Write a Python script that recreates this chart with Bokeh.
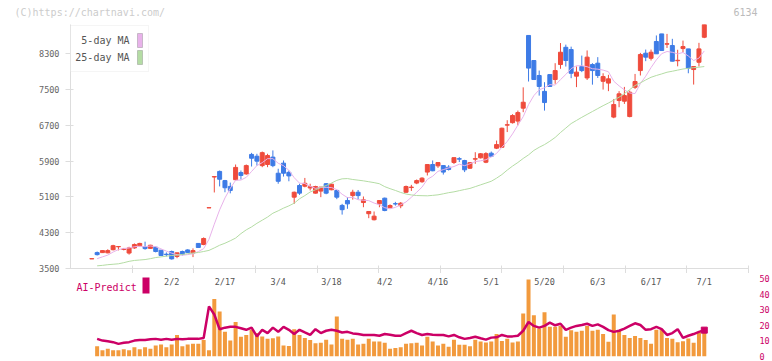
import pandas as pd
from bokeh.plotting import figure
from bokeh.layouts import column
from bokeh.models import ColumnDataSource, Range1d, FixedTicker, Label, BoxAnnotation
from bokeh.core.properties import value
from bokeh.embed import file_html
from bokeh.resources import INLINE

# ---------------- data ----------------
opens = [3715, 3855, 3855, 3850, 3920, 3985, 3925, 3845, 3960, 4010,
         3990, 3950, 3975, 3910, 3820, 3880, 3770, 3880, 3915, 3845,
         4060, 4036, 4855, 5545, 5670, 5465, 5335, 5485, 5645, 5615,
         6050, 6010, 5800, 5825, 5990, 5630, 5855, 5650, 5095, 5355,
         5340, 5300, 5185, 5230, 5395, 5260, 5245, 4910, 5020, 5130,
         5205, 4975, 4725, 4590, 4946, 5072, 4858, 4950, 4902, 5205,
         5310, 5410, 5440, 5655, 5825, 5795, 5800, 5765, 5870, 5955,
         5914, 5742, 5945, 5974, 5876, 6078, 6190, 6210, 6705, 6760,
         6795, 7085, 8710, 8150, 7815, 7460, 7835, 7725, 8060, 8445,
         8395, 7800, 8015, 7760, 8060, 8090, 7685, 7645, 6885, 7255,
         7240, 6897, 7552, 7925, 8313, 8200, 8575, 8745, 8515, 8485,
         8145, 8417, 8410, 7948, 8111, 8670]
highs = [3720, 3880, 3910, 3930, 4030, 3995, 3960, 3985, 4060, 4075,
         4100, 4030, 3990, 3910, 3860, 3900, 3855, 3900, 3930, 3950,
         4065, 4195, 4860, 5560, 5690, 5480, 5420, 5825, 5690, 5825,
         6085, 6065, 6115, 6065, 6140, 5730, 5915, 5690, 5220, 5395,
         5525, 5395, 5350, 5320, 5410, 5395, 5260, 4945, 5095, 5260,
         5255, 5110, 4780, 4775, 5020, 5085, 4935, 4990, 4985, 5355,
         5370, 5490, 5540, 5824, 5915, 5876, 5810, 5810, 5980, 5990,
         5930, 5880, 6100, 6080, 6100, 6115, 6360, 6650, 6815, 6950,
         7030, 7550, 8710, 8150, 7925, 7665, 7840, 8090, 8540, 8505,
         8460, 8015, 8260, 8375, 8090, 8225, 7865, 7830, 7290, 7465,
         7560, 7478, 7850, 8320, 8395, 8395, 8710, 8745, 8745, 8635,
         8390, 8595, 8410, 8015, 8545, 8955]
lows = [3715, 3790, 3850, 3840, 3905, 3905, 3905, 3810, 3940, 3995,
        3920, 3940, 3860, 3790, 3770, 3700, 3730, 3790, 3845, 3755,
        3965, 4020, 4855, 5200, 5335, 5205, 5180, 5470, 5490, 5595,
        5780, 5800, 5765, 5765, 5765, 5395, 5555, 5450, 4945, 5145,
        5315, 5245, 5175, 5095, 5160, 5250, 5050, 4705, 4835, 5040,
        5045, 4870, 4625, 4575, 4870, 4780, 4848, 4905, 4848, 5190,
        5235, 5385, 5415, 5580, 5675, 5750, 5600, 5690, 5835, 5880,
        5655, 5730, 5840, 5960, 5855, 6000, 6170, 6195, 6550, 6740,
        6700, 6995, 7680, 7720, 7365, 7030, 7560, 7630, 7965, 8015,
        7755, 7555, 7890, 7715, 7610, 7760, 7500, 7465, 6860, 7105,
        7180, 6880, 7515, 7815, 8135, 8150, 8300, 8370, 8430, 8130,
        8020, 8335, 7865, 7612, 8015, 8650]
closes = [3720, 3810, 3900, 3900, 4010, 3992, 3935, 3960, 4035, 4060,
          3945, 4020, 3880, 3790, 3810, 3715, 3850, 3815, 3860, 3900,
          3970, 4170, 4860, 5555, 5495, 5305, 5245, 5760, 5580, 5800,
          5965, 5900, 6090, 6025, 5800, 5450, 5630, 5570, 5205, 5185,
          5405, 5330, 5333, 5320, 5185, 5385, 5095, 4815, 4945, 5205,
          5130, 5035, 4775, 4670, 5020, 4796, 4908, 4942, 4960, 5333,
          5320, 5465, 5520, 5824, 5685, 5869, 5655, 5713, 5978, 5945,
          5706, 5865, 5955, 6065, 6068, 6010, 6270, 6636, 6715, 6920,
          6985, 7217, 7980, 7725, 7570, 7210, 7570, 7925, 8335, 8150,
          7865, 7890, 7925, 8225, 7925, 7815, 7790, 7740, 7165, 7405,
          7365, 7440, 7680, 8283, 8225, 8335, 8300, 8373, 8525, 8135,
          8155, 8462, 7977, 8015, 8410, 8955]

# 5-day MA values of the first days (their earlier closes are off the chart)
ma5_head = [3720, 3760, 3800]

# 25-day MA, from the 2nd day on
ma25 = [3560, 3570, 3585, 3595, 3605, 3630, 3660, 3680, 3690, 3700,
        3720, 3745, 3760, 3775, 3790, 3800, 3815, 3830, 3845, 3858,
        3880, 3905, 3960, 4020, 4065, 4120, 4180, 4280, 4364, 4430,
        4510, 4580, 4650, 4736, 4790, 4850, 4900, 4960, 5058, 5130,
        5210, 5260, 5310, 5355, 5410, 5470, 5505, 5510, 5490, 5475,
        5460, 5440, 5420, 5395, 5330, 5285, 5245, 5200, 5165, 5145,
        5131, 5128, 5125, 5135, 5147, 5170, 5195, 5214, 5240, 5266,
        5290, 5330, 5370, 5410, 5450, 5520, 5600, 5700, 5790, 5870,
        5960, 6040, 6140, 6210, 6270, 6345, 6430, 6540, 6640, 6740,
        6810, 6880, 6945, 7010, 7075, 7140, 7200, 7265, 7330, 7410,
        7500, 7590, 7650, 7715, 7775, 7815, 7850, 7888, 7910, 7935,
        7960, 7975, 7990, 8000, 8015]

# lower panel (from the 2nd day on)
volume = [6.5, 4.0, 5.0, 4.0, 4.0, 4.6, 4.0, 6.0, 4.6, 6.0,
          5.0, 7.1, 7.7, 6.0, 7.7, 13.8, 6.5, 7.7, 8.1, 8.1,
          10.6, 4.0, 36.9, 28.9, 15.8, 10.2, 22.1, 12.7, 13.8, 17.1,
          15.0, 12.9, 11.3, 11.7, 12.9, 7.1, 6.7, 17.5, 13.8, 11.9,
          10.6, 8.5, 8.8, 10.8, 7.7, 25.6, 11.3, 10.8, 11.3, 7.7,
          8.1, 11.3, 9.6, 9.6, 8.8, 5.0, 5.4, 6.0, 8.1, 8.5,
          8.8, 7.1, 12.7, 9.6, 7.1, 8.1, 6.3, 10.8, 7.5, 7.5,
          6.5, 10.8, 9.6, 9.0, 9.6, 14.4, 10.0, 11.3, 9.0, 9.6,
          27.5, 49.4, 26.5, 17.9, 28.3, 19.0, 19.0, 19.6, 12.7, 16.9,
          15.8, 16.5, 19.6, 16.5, 17.1, 14.4, 9.4, 26.9, 16.5, 13.8,
          11.9, 13.1, 11.9, 10.6, 8.1, 17.1, 17.1, 11.9, 11.3, 9.2,
          9.8, 11.5, 8.8, 15.4, 18.8]
ai_predict = [11.3, 10.2, 9.8, 9.2, 8.1, 8.8, 9.2, 10.2, 10.6, 10.6,
              11.0, 11.3, 10.8, 11.3, 10.8, 11.3, 11.0, 11.3, 11.3, 11.3,
              11.9, 32.1, 26.9, 17.5, 18.5, 19.0, 19.0, 18.1, 17.1, 18.5,
              12.9, 17.1, 15.0, 18.5, 15.8, 19.0, 17.1, 14.4, 17.1, 15.4,
              13.8, 17.5, 15.0, 16.5, 17.1, 16.5, 15.4, 15.8, 14.8, 14.4,
              13.8, 13.8, 13.8, 13.3, 14.4, 14.0, 13.3, 13.3, 15.0, 16.5,
              15.0, 13.8, 14.4, 14.0, 13.8, 13.8, 12.9, 13.8, 12.3, 11.3,
              11.9, 12.7, 11.7, 10.8, 12.1, 12.3, 13.8, 12.9, 12.9, 13.3,
              16.5, 22.1, 19.6, 18.5, 19.6, 21.7, 20.0, 21.0, 17.1, 18.5,
              19.6, 20.2, 21.0, 19.6, 20.6, 19.0, 16.9, 15.8, 16.5, 17.9,
              19.6, 21.3, 20.2, 17.1, 17.5, 19.0, 17.5, 13.8, 15.0, 17.5,
              11.9, 13.3, 14.4, 15.8, 16.9]

date_labels = ["2/2", "2/17", "3/4", "3/18", "4/2", "4/16", "5/1", "5/20", "6/3", "6/17", "7/1"]
date_pos = [15, 25, 35, 45, 55, 65, 75, 85, 95, 105, 115]
price_ticks = [3500, 4300, 5100, 5900, 6700, 7500, 8300]
right_ticks = [0, 10, 20, 30, 40, 50]

# ---------------- styling ----------------
FONT = "DejaVu Sans Mono"
RED, BLUE = "#ef4b3c", "#3d7be6"
PINK, GREEN = "#e8b2ea", "#b4dca4"
ORANGE, MAGENTA = "#f29a3d", "#cc0066"
AXIS = "#dddddd"


def bare(fig):
    fig.outline_line_color = None
    fig.grid.visible = False
    return fig


n = len(closes)
idx = list(range(n))
src = ColumnDataSource(dict(
    x=idx, high=highs, low=lows,
    top=[max(o, c) for o, c in zip(opens, closes)],
    bottom=[min(o, c) for o, c in zip(opens, closes)],
    color=[RED if c >= o else BLUE for o, c in zip(opens, closes)],
))
ma5 = pd.Series(closes, dtype=float).rolling(5).mean().tolist()
ma5[1:1 + len(ma5_head)] = ma5_head

# ---------------- price panel ----------------
x_lo, x_hi = -4.0, 123.3
p1 = bare(figure(width=772, height=273, x_range=Range1d(x_lo, x_hi), y_range=Range1d(3500, 8955),
                 output_backend="svg", toolbar_location=None, title=None,
                 min_border_left=70, min_border_right=20, min_border_top=24, min_border_bottom=5,
                 background_fill_color="white", border_fill_color="white"))

p1.segment("x", "high", "x", "low", source=src, line_color="color", line_width=1)
p1.vbar(x="x", top="top", bottom="bottom", width=0.75, source=src,
        fill_color="color", line_color="color", line_width=1)
p1.line(idx[1:], ma5[1:], line_color=PINK, line_width=1)
p1.line(idx[1:], ma25, line_color=GREEN, line_width=1)

xa = p1.xaxis[0]
xa.ticker = FixedTicker(ticks=[], minor_ticks=[x_lo + k * (x_hi - x_lo) / 11 - 1e-6 for k in range(1, 12)])
xa.major_label_standoff = 0
xa.major_tick_in = 0
xa.major_tick_out = 0
xa.minor_tick_in = 3
xa.minor_tick_out = 5
xa.axis_line_color = AXIS
xa.major_tick_line_color = None
xa.minor_tick_line_color = AXIS

ya = p1.yaxis[0]
ya.ticker = FixedTicker(ticks=price_ticks)
ya.major_label_text_font = FONT
ya.major_label_text_font_size = "8.5px"
ya.major_label_text_color = "#666666"
ya.major_label_standoff = 6
ya.major_tick_in = 3
ya.major_tick_out = 5
ya.axis_line_color = AXIS
ya.major_tick_line_color = AXIS
ya.minor_tick_line_color = None

# header texts live in the side panel above the frame (not clipped there)
p1.add_layout(Label(x=-56, y=12, x_units="screen", y_units="screen", text="(C)https://chartnavi.com/",
                    text_align="left", text_baseline="middle", text_font=FONT,
                    text_font_size="10px", text_color="#cccccc"), "above")
p1.add_layout(Label(x=687, y=2, x_units="screen", y_units="screen", text="6134",
                    text_align="right", text_baseline="middle", text_font=FONT,
                    text_font_size="10px", text_color="#bbbbbb"), "above")

# legend of the moving averages (label first, then swatch)
p1.add_layout(BoxAnnotation(left=0, right=78, top=243, bottom=197,
                            left_units="screen", right_units="screen", top_units="screen", bottom_units="screen",
                            fill_color="white", fill_alpha=1, line_color=AXIS, line_width=1))
for name, col, yc in [("5-day MA", PINK, 228), ("25-day MA", GREEN, 211)]:
    p1.add_layout(Label(x=59, y=yc, x_units="screen", y_units="screen", text=name,
                        text_align="right", text_baseline="middle", text_font=FONT,
                        text_font_size="10px", text_color="#555555"))
    p1.add_layout(BoxAnnotation(left=67, right=72, top=yc + 7, bottom=yc - 7,
                                left_units="screen", right_units="screen", top_units="screen", bottom_units="screen",
                                fill_color=col, fill_alpha=1, line_color="#666666", line_width=1))

# ---------------- lower panel ----------------
p2 = bare(figure(width=772, height=88, x_range=p1.x_range, y_range=Range1d(0, 83 / 1.56),
                 x_axis_location=None, y_axis_location="right",
                 output_backend="svg", toolbar_location=None, title=None,
                 min_border_left=70, min_border_right=20, min_border_top=0, min_border_bottom=5,
                 background_fill_color="white", border_fill_color="white"))

p2.vbar(x=idx[1:], top=volume, bottom=0, width=0.75, fill_color=ORANGE, line_color=None)
p2.line(idx[1:], ai_predict, line_color=MAGENTA, line_width=2.5)
p2.scatter([idx[-1]], [ai_predict[-1]], marker="square", size=6, fill_color=MAGENTA, line_color=MAGENTA)

ra = p2.yaxis[0]
ra.ticker = FixedTicker(ticks=right_ticks)
ra.major_label_text_font = FONT
ra.major_label_text_font_size = "8.5px"
ra.major_label_text_color = MAGENTA
ra.major_label_standoff = 5
ra.axis_line_color = None
ra.major_tick_line_color = None
ra.minor_tick_line_color = None

label_y = 75 / 1.56
p2.text(x=date_pos, y=[label_y] * len(date_pos), text=date_labels,
        text_align="center", text_baseline="middle", text_font=value(FONT),
        text_font_size="8.5px", text_color="#555555")

p2.add_layout(Label(x=6, y=69, x_units="screen", y_units="screen", text="AI-Predict",
                    text_align="left", text_baseline="middle", text_font=FONT,
                    text_font_size="10px", text_color=MAGENTA))
p2.add_layout(BoxAnnotation(left=72, right=79, top=79, bottom=63,
                            left_units="screen", right_units="screen", top_units="screen", bottom_units="screen",
                            fill_color=MAGENTA, fill_alpha=1, line_color=None))

layout = column(p1, p2, spacing=0)
open("out.html", "w").write(file_html(layout, INLINE))
